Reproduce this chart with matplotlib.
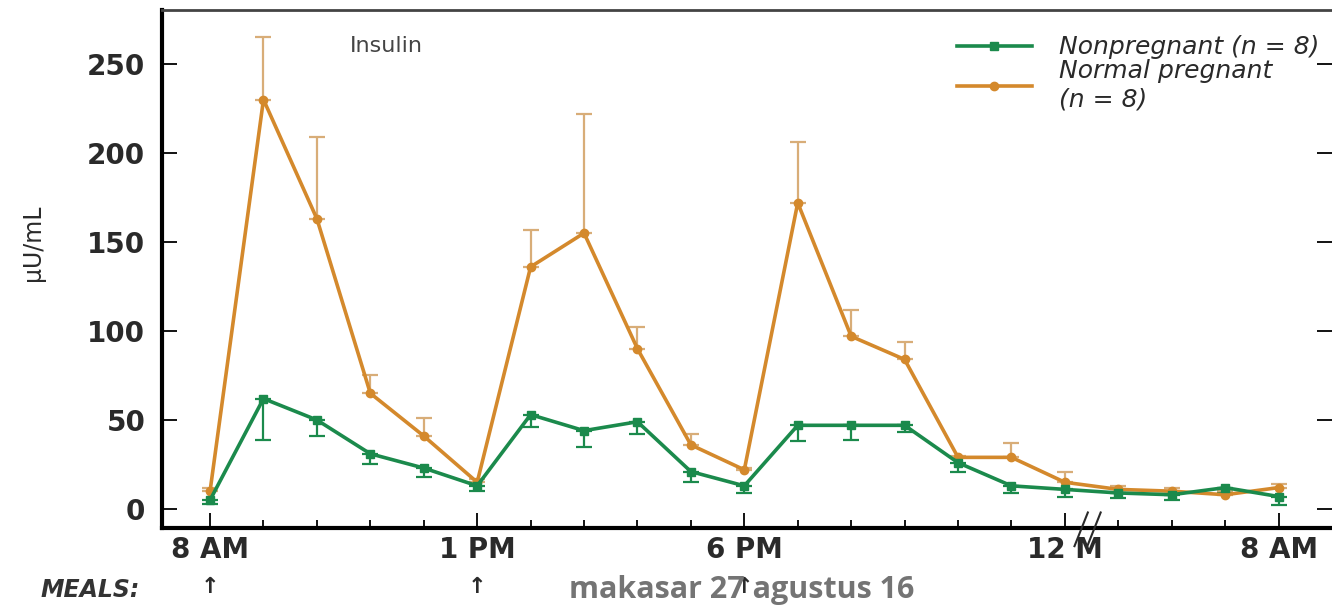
import numpy as np
import matplotlib
matplotlib.use("Agg")
from matplotlib import pyplot as plt
from matplotlib import transforms

# time points: 8 AM .. 12 M hourly, then every 2 h until 8 AM
pos = list(range(21))
tick_pos = [0, 5, 10, 16, 20]
tick_labels = ["8 AM", "1 PM", "6 PM", "12 M", "8 AM"]
meal_pos = [0, 5, 10]

nonpregnant = [5, 62, 50, 31, 23, 13, 53, 44, 49, 21, 13, 47, 47, 47, 26, 13, 11, 9, 8, 12, 7]
nonpreg_err = [2, 23, 9, 6, 5, 3, 7, 9, 7, 6, 4, 9, 8, 4, 5, 4, 4, 3, 3, 3, 5]

pregnant = [10, 230, 163, 65, 41, 15, 136, 155, 90, 36, 22, 172, 97, 84, 29, 29, 15, 11, 10, 8, 12]
preg_err = [2, 35, 46, 10, 10, 2, 21, 67, 12, 6, 1, 34, 15, 10, 1, 8, 6, 2, 2, 2, 2]

green = "#1b8a4c"
orange = "#d4892c"
txt = "#2a2a2a"

fig = plt.figure(figsize=(13.32, 6.11), dpi=100)
ax = fig.add_axes([0.1216, 0.1358, 0.8784, 0.8478])

zeros = np.zeros(len(pos))
ax.errorbar(pos, pregnant, yerr=[zeros, preg_err], fmt="none", ecolor="#d8ad78",
            elinewidth=1.6, capsize=6, capthick=1.6, zorder=2)
ax.errorbar(pos, nonpregnant, yerr=[nonpreg_err, zeros], fmt="none", ecolor=green,
            elinewidth=1.6, capsize=6, capthick=1.6, zorder=2)
ax.plot(pos, pregnant, color=orange, lw=2.6, marker="o", ms=6, zorder=3,
        label="Normal pregnant\n(n = 8)")
ax.plot(pos, nonpregnant, color=green, lw=2.6, marker="s", ms=6, zorder=4,
        label="Nonpregnant (n = 8)")

ax.set_xlim(-0.9, 21.0)
ax.set_ylim(-10.7, 280.3)

ax.set_yticks([0, 50, 100, 150, 200, 250])
ax.set_xticks(tick_pos)
ax.set_xticklabels(tick_labels)
ax.set_xticks(pos, minor=True)
ax.tick_params(axis="both", which="major", direction="in", labelsize=20,
               labelcolor=txt, length=11, width=1.3)
ax.tick_params(axis="x", which="minor", direction="in", length=6, width=1.3)
ax.tick_params(axis="y", right=True, pad=12)
ax.tick_params(axis="x", pad=6)
for lab in ax.get_xticklabels() + ax.get_yticklabels():
    lab.set_family("DejaVu Sans")
    lab.set_fontweight("bold")

ax.spines["left"].set_linewidth(3)
ax.spines["bottom"].set_linewidth(3)
ax.spines["top"].set_linewidth(2)
ax.spines["top"].set_color("#444444")
ax.spines["right"].set_visible(False)

ax.set_ylabel("μU/mL", fontsize=17, family="DejaVu Sans", color=txt)
ax.yaxis.set_label_coords(-0.1, 0.55)

ax.text(3.3, 260, "Insulin", fontsize=16, color="#444444", ha="center", va="center",
        family="DejaVu Sans")

# break mark on the x axis
brk = transforms.blended_transform_factory(ax.transData, ax.transAxes)
for dx in (-0.12, 0.12):
    ax.plot([16.3 + dx, 16.55 + dx], [-0.035, 0.03], transform=brk, color=txt,
            lw=1.5, clip_on=False, zorder=6)

handles, labels = ax.get_legend_handles_labels()
ax.legend(handles[::-1], labels[::-1], loc="upper right", bbox_to_anchor=(1.0, 0.975),
          frameon=False, prop={"style": "italic", "size": 18, "family": "DejaVu Sans"},
          handlelength=3.0, handletextpad=1.1, labelspacing=0.0, borderaxespad=0.1,
          labelcolor=txt)

trans = transforms.blended_transform_factory(ax.transData, fig.transFigure)
for m in meal_pos:
    ax.text(m, 0.04, "↑", transform=trans, fontsize=16, fontweight="bold",
            ha="center", va="center", color=txt)
fig.text(0.068, 0.035, "MEALS:", fontsize=17, style="italic", fontweight="bold",
         ha="center", va="center", color="#333333", family="DejaVu Sans")

fig.text(0.557, 0.035, "makasar 27 agustus 16", fontsize=22, fontweight="bold",
         ha="center", va="center", color="#747474", family="Open Sans")

fig.savefig("out.png", dpi=100)
